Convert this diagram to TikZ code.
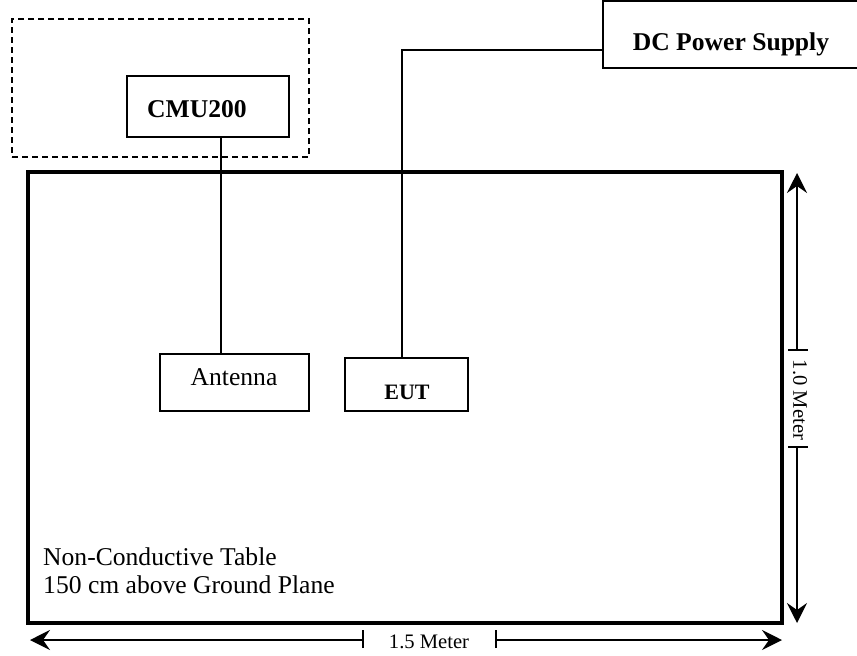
\documentclass[tikz,border=0pt]{standalone}
\usepackage{fontspec}
\setmainfont{Liberation Serif}
\usetikzlibrary{arrows.meta,calc}
\tikzset{
  box/.style={draw, line width=2pt, inner sep=0pt, outer sep=0pt, anchor=north west},
  lbl/.style={inner sep=0pt, font=\fontsize{25.6}{28}\selectfont},
  blbl/.style={inner sep=0pt, font=\fontsize{25.6}{28}\selectfont\bfseries},
  dimlbl/.style={inner sep=0pt, font=\fontsize{20.6}{24}\selectfont},
  wire/.style={line width=1.6pt},
  dimline/.style={line width=1.6pt},
  dimtip/.style={-{Stealth[length=20pt,width=20pt,inset=7pt]}, line width=1.6pt},
}
\begin{document}
\begin{tikzpicture}[x=1pt,y=-1pt]
\useasboundingbox[fill=white] (0,0) rectangle (857,656);
% dashed enclosure
\node (grp) [box, dashed, dash pattern=on 6pt off 4pt, line width=1.6pt, minimum width=297pt, minimum height=138pt] at (12,19) {};
% table
\node (tab) [box, line width=3.2pt, minimum width=754pt, minimum height=451pt] at (28,172) {};
% boxes
\node (cmu) [box, minimum width=162pt, minimum height=61pt] at (127,76) {};
\node (cmut) [blbl, anchor=base] at (197,117) {CMU200};
\node (dc) [box, minimum width=262pt, minimum height=67pt] at (603,1) {};
\node (dct) [blbl, anchor=base] at (731,50) {DC Power Supply};
\node (ant) [box, minimum width=149pt, minimum height=57pt] at (160,354) {};
\node (antt) [lbl, anchor=base] at (234,385) {Antenna};
\node (eut) [box, minimum width=123pt, minimum height=53pt] at (345,358) {};
\node (eutt) [blbl, font=\fontsize{22}{26}\selectfont\bfseries, anchor=base] at (407,399) {EUT};
\node (tabt) [lbl, anchor=base west, align=left] at (43,593) {Non-Conductive Table\\150 cm above Ground Plane};
% connectors
\coordinate (cx1) at (221,0);
\coordinate (cx2) at (402,0);
\coordinate (cy2) at (0,50);
\draw[wire] (cmu.south -| cx1) -- (ant.north -| cx1);
\draw[wire] (eut.north -| cx2) -- (cx2 |- cy2) -- (dc.west |- cy2);
% vertical dimension
\coordinate (vt) at (797,173);
\coordinate (vb) at (797,623);
\coordinate (vk1) at (797,350);
\coordinate (vk2) at (797,447);
\draw[dimtip] (vk1) -- (vt);
\draw[dimtip] (vk2) -- (vb);
\draw[dimline] ([xshift=-9pt]vk1) -- ([xshift=11pt]vk1);
\draw[dimline] ([xshift=-9pt]vk2) -- ([xshift=11pt]vk2);
\node (vlab) [dimlbl, rotate=-90] at (800,400) {1.0 Meter};
% horizontal dimension
\coordinate (hl) at (30,640);
\coordinate (hr) at (782,640);
\coordinate (hk1) at (363,640);
\coordinate (hk2) at (496,640);
\draw[dimtip] (hk1) -- (hl);
\draw[dimtip] (hk2) -- (hr);
\draw[dimline] ([yshift=-8pt]hk1) -- ([yshift=10pt]hk1);
\draw[dimline] ([yshift=-8pt]hk2) -- ([yshift=10pt]hk2);
\node (hlab) [dimlbl, anchor=base] at (429,648) {1.5 Meter};
\end{tikzpicture}
\end{document}
